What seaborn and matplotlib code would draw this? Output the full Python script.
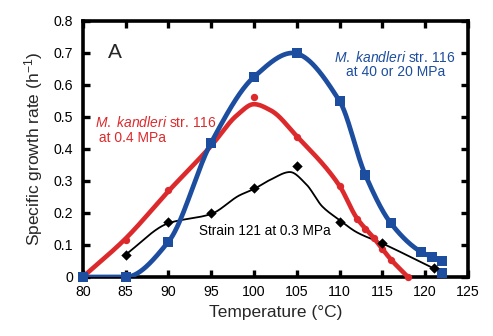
import numpy as np
import pandas as pd
import matplotlib
matplotlib.use("Agg")
import matplotlib.pyplot as plt
import seaborn as sns

# Measured growth rates (h^-1) versus temperature (deg C)
blue_temp = [80, 85, 90, 95, 100, 105, 110, 113, 116, 119.5, 120.8, 122, 122]
blue_rate = [0.0, 0.0, 0.11, 0.42, 0.625, 0.70, 0.55, 0.32, 0.168, 0.079, 0.063, 0.05, 0.012]

red_temp = [80, 85, 90, 100, 105, 110, 112, 113, 114, 115, 116, 118]
red_rate = [0.0, 0.115, 0.272, 0.562, 0.438, 0.285, 0.182, 0.15, 0.122, 0.088, 0.053, 0.0]

black_temp = [85, 90, 95, 100, 105, 110, 115, 121]
black_rate = [0.07, 0.171, 0.199, 0.277, 0.347, 0.173, 0.105, 0.027]

# Fitted curves (knots of the smooth lines)
blue_fit_temp = [80, 85, 90, 95, 100, 104.5, 110, 113, 116, 119.5, 120.8, 122]
blue_fit_rate = [0.0, 0.0, 0.11, 0.42, 0.625, 0.70, 0.55, 0.32, 0.168, 0.079, 0.063, 0.05]

red_fit_temp = [80, 85, 90, 95, 98, 100, 102, 105, 110, 112, 114, 116, 118]
red_fit_rate = [0.0, 0.12, 0.268, 0.41, 0.505, 0.54, 0.52, 0.44, 0.285, 0.185, 0.122, 0.055, 0.0]

black_fit_temp = [85, 90, 95, 98.3, 100, 102, 104.2, 106.1, 108, 110, 112, 115, 121]
black_fit_rate = [0.07, 0.168, 0.197, 0.255, 0.275, 0.305, 0.328, 0.29, 0.22, 0.178, 0.14, 0.105, 0.027]

x_ticks = [80, 85, 90, 95, 100, 105, 110, 115, 120, 125]
y_ticks = [0, 0.1, 0.2, 0.3, 0.4, 0.5, 0.6, 0.7, 0.8]
y_tick_labels = ["0", "0.1", "0.2", "0.3", "0.4", "0.5", "0.6", "0.7", "0.8"]

BLUE = "#1d4d9f"
RED = "#dc2a2c"
BLACK = "#000000"


def pchip(x, y, xs):
    """Shape-preserving piecewise cubic Hermite curve through the knots."""
    x = np.asarray(x, float)
    y = np.asarray(y, float)
    h = np.diff(x)
    d = np.diff(y) / h
    n = len(x)
    m = np.zeros(n)
    m[0], m[-1] = d[0], d[-1]
    for k in range(1, n - 1):
        if d[k - 1] * d[k] <= 0:
            m[k] = 0.0
        else:
            w1 = 2 * h[k] + h[k - 1]
            w2 = h[k] + 2 * h[k - 1]
            m[k] = (w1 + w2) / (w1 / d[k - 1] + w2 / d[k])
    idx = np.clip(np.searchsorted(x, xs) - 1, 0, n - 2)
    t = (xs - x[idx]) / h[idx]
    h00 = 2 * t**3 - 3 * t**2 + 1
    h10 = t**3 - 2 * t**2 + t
    h01 = -2 * t**3 + 3 * t**2
    h11 = t**3 - t**2
    return (h00 * y[idx] + h10 * h[idx] * m[idx]
            + h01 * y[idx + 1] + h11 * h[idx] * m[idx + 1])


def smooth_frame(tx, ty):
    xs = np.linspace(tx[0], tx[-1], 400)
    return pd.DataFrame({"temp": xs, "rate": pchip(tx, ty, xs)})


sns.set_theme(style="ticks")
plt.rcParams["font.family"] = ["Liberation Sans", "DejaVu Sans"]
plt.rcParams["mathtext.fontset"] = "custom"
plt.rcParams["mathtext.rm"] = "Liberation Sans"
plt.rcParams["mathtext.it"] = "Liberation Sans:italic"
plt.rcParams["mathtext.default"] = "regular"

fig = plt.figure(figsize=(4.93, 3.36), dpi=100)
ax = fig.add_axes([0.168, 0.1756, 0.781, 0.762])

# Smooth curves
sns.lineplot(data=smooth_frame(black_fit_temp, black_fit_rate), x="temp", y="rate",
             ax=ax, color=BLACK, linewidth=1.3, sort=False, zorder=2)
sns.lineplot(data=smooth_frame(red_fit_temp, red_fit_rate), x="temp", y="rate",
             ax=ax, color=RED, linewidth=3.3, sort=False, zorder=3)
sns.lineplot(data=smooth_frame(blue_fit_temp, blue_fit_rate), x="temp", y="rate",
             ax=ax, color=BLUE, linewidth=3.4, sort=False, zorder=4)

# Measured points
sns.scatterplot(x=red_temp, y=red_rate, ax=ax, color=RED, marker="o", s=28,
                linewidth=0, zorder=5, clip_on=False)
sns.scatterplot(x=blue_temp, y=blue_rate, ax=ax, color=BLUE, marker="s", s=55,
                linewidth=0, zorder=6, clip_on=False)
sns.scatterplot(x=black_temp, y=black_rate, ax=ax, color=BLACK, marker="D", s=28,
                linewidth=0, zorder=7, clip_on=False)

ax.set_xlim(80, 125)
ax.set_ylim(0, 0.8)
ax.set_xticks(x_ticks)
ax.set_yticks(y_ticks)
ax.set_yticklabels(y_tick_labels)

for side in ["left", "right", "top", "bottom"]:
    ax.spines[side].set_visible(True)
    ax.spines[side].set_linewidth(2.6)
    ax.spines[side].set_color("black")

ax.tick_params(axis="both", which="major", direction="in", length=5, width=2.4,
               top=True, right=True, labelsize=10.2, colors="black")
ax.tick_params(axis="x", pad=6)
ax.tick_params(axis="y", pad=7)

ax.set_xlabel("Temperature (°C)", fontsize=12.5, labelpad=4)
ax.set_ylabel("Specific growth rate (h$^{-1}$)", fontsize=12.5, labelpad=6)

# Annotations
species = r"$\mathit{M.\ kandleri}$ str. 116"
ax.text(83.8, 0.70, "A", fontsize=15, ha="center", va="center")
ax.text(81.4, 0.459, species + "\n at 0.4 MPa", fontsize=10, color=RED,
        ha="left", va="center", multialignment="left", linespacing=1.05)
ax.text(116.5, 0.664, species + "\nat 40 or 20 MPa", fontsize=10, color=BLUE,
        ha="center", va="center", multialignment="center", linespacing=1.05)
ax.text(101.3, 0.145, "Strain 121 at 0.3 MPa", fontsize=9.8, color=BLACK,
        ha="center", va="center")

fig.savefig("out.png", dpi=100)
